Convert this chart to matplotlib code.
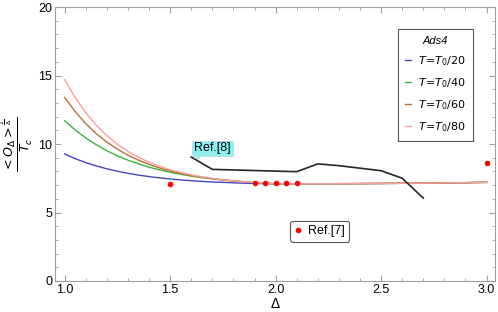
import matplotlib.pyplot as plt
from matplotlib.lines import Line2D

plt.rcParams['font.family'] = ['Liberation Sans', 'DejaVu Sans']
plt.rcParams['mathtext.fontset'] = 'dejavusans'

# curvas Ads4
delta = [1.0, 1.05, 1.1, 1.15, 1.2, 1.25, 1.3, 1.35, 1.4, 1.45, 1.5, 1.55, 1.6, 1.65,
         1.7, 1.75, 1.8, 1.85, 1.9, 1.95, 2.0, 2.25, 2.5, 2.75, 3.0]
t20 = [9.27, 8.93, 8.64, 8.40, 8.19, 8.01, 7.86, 7.73, 7.62, 7.53, 7.45, 7.38, 7.32, 7.27,
       7.23, 7.2, 7.17, 7.14, 7.12, 7.11, 7.1, 7.1, 7.12, 7.15, 7.2]
t40 = [11.7, 11.02, 10.44, 9.94, 9.51, 9.14, 8.82, 8.55, 8.31, 8.11, 7.94, 7.79, 7.66, 7.55,
       7.46, 7.38, 7.31, 7.25, 7.2, 7.15, 7.1, 7.1, 7.12, 7.15, 7.2]
t60 = [13.4, 12.36, 11.49, 10.75, 10.14, 9.62, 9.18, 8.82, 8.51, 8.25, 8.04, 7.85, 7.70, 7.57,
       7.46, 7.37, 7.30, 7.23, 7.18, 7.13, 7.1, 7.1, 7.12, 7.15, 7.2]
t80 = [14.7, 13.38, 12.28, 11.37, 10.61, 9.98, 9.46, 9.03, 8.67, 8.37, 8.12, 7.92, 7.75, 7.61,
       7.49, 7.39, 7.31, 7.24, 7.19, 7.14, 7.1, 7.1, 7.12, 7.15, 7.2]
etiquetas = ['$T\\!=\\!T_0/20$', '$T\\!=\\!T_0/40$', '$T\\!=\\!T_0/60$', '$T\\!=\\!T_0/80$']
colores = ['#4646c4', '#3cb43c', '#b87038', '#ff9c9c']

# Ref.[8]
ref8_x = [1.6, 1.7, 2.1, 2.2, 2.3, 2.5, 2.6, 2.7]
ref8_y = [9.05, 8.15, 7.98, 8.55, 8.42, 8.05, 7.5, 6.05]

# Ref.[7]
ref7_x = [1.5, 1.9, 1.95, 2.0, 2.05, 2.1, 3.0]
ref7_y = [7.05, 7.12, 7.12, 7.12, 7.12, 7.12, 8.64]

fig = plt.figure(figsize=(4.98, 3.12), dpi=100)
ax = fig.add_axes([0.110, 0.0994, 0.884, 0.878])

for serie, col, lab in zip([t20, t40, t60, t80], colores, etiquetas):
    ax.plot(delta, serie, color=col, lw=1.0, label=lab)

ax.plot(ref8_x, ref8_y, color='#262626', lw=1.2)
ax.plot(ref7_x, ref7_y, 'o', color='#ff0000', ms=4, mec='none', zorder=5)

ax.set_xlim(0.953, 3.04)
ax.set_ylim(0, 20)
ax.set_xticks([1.0, 1.5, 2.0, 2.5, 3.0])
ax.set_xticks([x / 10 for x in range(10, 31)], minor=True)
ax.set_yticks([0, 5, 10, 15, 20])
ax.set_yticks(range(0, 21), minor=True)
ax.tick_params(which='both', direction='in', top=True, right=True, color='#a0a0a0',
               labelsize=9, pad=2)
ax.tick_params(which='major', length=4)
ax.tick_params(which='minor', length=2)
for s in ax.spines.values():
    s.set_color('#a0a0a0')
    s.set_linewidth(0.8)

ax.set_xlabel('Δ', fontsize=10, labelpad=1)
ax.set_ylabel(r'$\frac{<O_\Delta>^{\frac{1}{\Delta}}}{T_c}$', fontsize=13, labelpad=2)

leg = ax.legend(title='Ads4', loc='upper left', bbox_to_anchor=(0.78, 0.92),
                borderaxespad=0, fontsize=8, handlelength=0.6, handletextpad=0.6,
                labelspacing=0.75, borderpad=0.6, fancybox=False, edgecolor='#555555',
                framealpha=1)
leg.get_title().set_fontstyle('italic')
leg.get_title().set_fontsize(8)
leg.get_frame().set_linewidth(0.8)
ax.add_artist(leg)

h7 = Line2D([], [], marker='o', color='#ff0000', ls='none', ms=4, mec='none')
leg7 = ax.legend([h7], ['Ref.[7]'], loc='center', bbox_to_anchor=(0.602, 0.182),
                 borderaxespad=0, fontsize=9, handlelength=0.6, handletextpad=0.5,
                 borderpad=0.35, fancybox=True, edgecolor='#555555', framealpha=1)
leg7.get_frame().set_linewidth(0.8)

ax.annotate('Ref.[8]', xy=(1.62, 8.95), xytext=(1.70, 9.68), fontsize=9,
            ha='center', va='center',
            bbox=dict(boxstyle='square,pad=0.15', fc='#8ff0f0', ec='#b0e0e0', lw=0.6),
            arrowprops=dict(arrowstyle='wedge,tail_width=0.4', fc='#8ff0f0',
                            ec='#b0e0e0', lw=0.6, shrinkA=0, shrinkB=0))

plt.savefig('out.png', dpi=100)
plt.close()
